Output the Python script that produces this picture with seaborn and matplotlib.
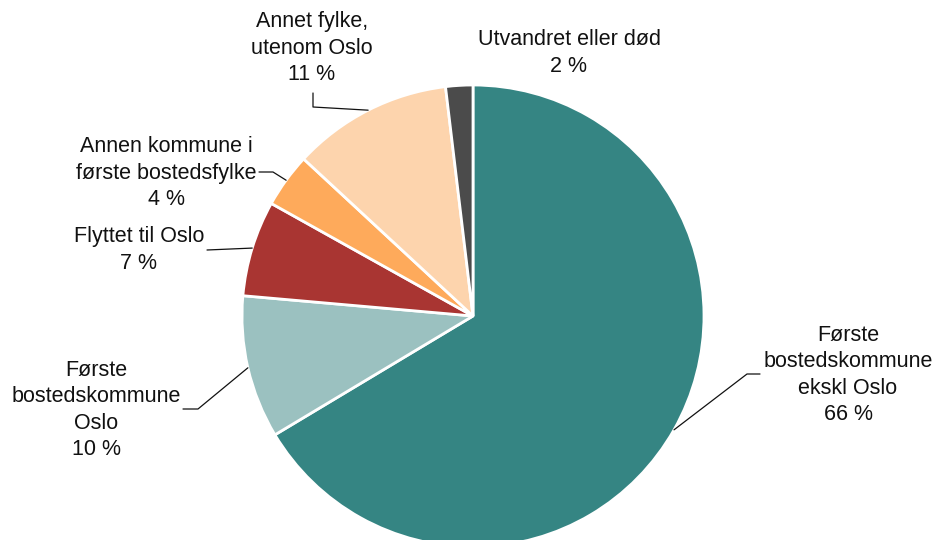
import numpy as np
import matplotlib
matplotlib.use("Agg")
import matplotlib.pyplot as plt
import seaborn as sns

# data (shares in percent, clockwise from 12 o'clock)
categories = [
    "Første\nbostedskommune\nekskl Oslo",
    "Første\nbostedskommune\nOslo",
    "Flyttet til Oslo",
    "Annen kommune i\nførste bostedsfylke",
    "Annet fylke,\nutenom Oslo",
    "Utvandret eller død",
]
shares = [66.4, 10.0, 6.7, 3.8, 11.2, 1.9]
colors = ["#358583", "#9bc1c0", "#a93532", "#feaa5b", "#fdd4ad", "#4b4b4b"]

# layout in pixel units (figure is 936 x 540, y measured from bottom)
label_pos = [(848, 165), (96, 130), (139, 290), (166, 367), (312, 492), (569, 487)]
# leader line: list of bend points from text towards the wedge (None = no line)
leader_pts = [
    [(760, 166), (747, 166)],
    [(183, 131), (198, 131)],
    [(207, 290)],
    [(259, 368), (273, 368)],
    [(313, 447), (313, 433)],
    None,
]

sns.set_style("white")
plt.rcParams["font.family"] = ["Liberation Sans", "DejaVu Sans"]

fig = plt.figure(figsize=(9.36, 5.4), dpi=100)
ax = fig.add_axes([0, 0, 1, 1])

wedges, _ = ax.pie(
    shares,
    colors=colors,
    startangle=90,
    counterclock=False,
    center=(473, 224),
    radius=231,
    wedgeprops=dict(edgecolor="white", linewidth=2),
)
ax.set_xlim(0, 936)
ax.set_ylim(0, 540)
ax.set_aspect("equal")
ax.axis("off")

for w, cat, v, pos, pts in zip(wedges, categories, shares, label_pos, leader_pts):
    ax.text(pos[0], pos[1], f"{cat}\n{round(v)} %", ha="center", va="center",
            multialignment="center", fontsize=15.5, color="#111111",
            linespacing=1.32)
    if pts is None:
        continue
    mid = np.deg2rad((w.theta1 + w.theta2) / 2)
    cx, cy = w.center
    edge = (cx + w.r * np.cos(mid), cy + w.r * np.sin(mid))
    xs = [p[0] for p in pts] + [edge[0]]
    ys = [p[1] for p in pts] + [edge[1]]
    ax.plot(xs, ys, color="#111111", lw=0.9)

fig.savefig("out.png", dpi=100)
